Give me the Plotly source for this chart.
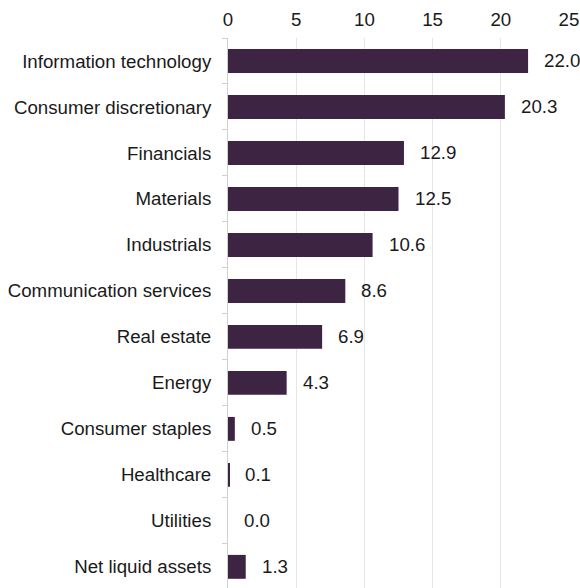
import plotly.graph_objects as go

categories = ["Information technology", "Consumer discretionary", "Financials", "Materials",
              "Industrials", "Communication services", "Real estate", "Energy",
              "Consumer staples", "Healthcare", "Utilities", "Net liquid assets"]
values = [22.0, 20.3, 12.9, 12.5, 10.6, 8.6, 6.9, 4.3, 0.5, 0.1, 0.0, 1.3]
x_ticks = [0, 5, 10, 15, 20, 25]

bar_color = "#3d2442"
font_family = "Liberation Sans, Arial, sans-serif"
fs = 18.7

fig = go.Figure()
fig.add_trace(go.Bar(
    y=categories, x=values, orientation="h",
    marker=dict(color=bar_color, line=dict(width=0)),
    width=0.52, hoverinfo="skip",
))

for c, v in zip(categories, values):
    fig.add_annotation(x=v, y=c, text=f"{v:.1f}", showarrow=False,
                       xanchor="left", xshift=14,
                       font=dict(family=font_family, size=fs, color="#1a1a1a"))

fig.update_layout(
    width=580, height=588,
    margin=dict(l=228, r=11, t=38, b=0),
    plot_bgcolor="white", paper_bgcolor="white",
    showlegend=False,
    font=dict(family=font_family, size=fs, color="#1a1a1a"),
    xaxis=dict(side="top", range=[0, 25], tickvals=x_ticks, showgrid=True,
               gridcolor="#e6e6e6", gridwidth=1, zeroline=False, showline=False,
               ticks="", tickfont=dict(size=fs), ticklabelstandoff=7),
    yaxis=dict(categoryorder="array", categoryarray=categories, range=[11.46, -0.5],
               showline=True, linecolor="#d0d0d0", linewidth=1,
               ticks="outside", tickson="boundaries", ticklen=5, tickcolor="#d0d0d0",
               showgrid=False, tickfont=dict(size=fs), ticklabelstandoff=12),
)

fig.write_html("out.html", config={"displayModeBar": False},
               post_script="document.body.style.margin='0';document.body.style.overflow='hidden';")
